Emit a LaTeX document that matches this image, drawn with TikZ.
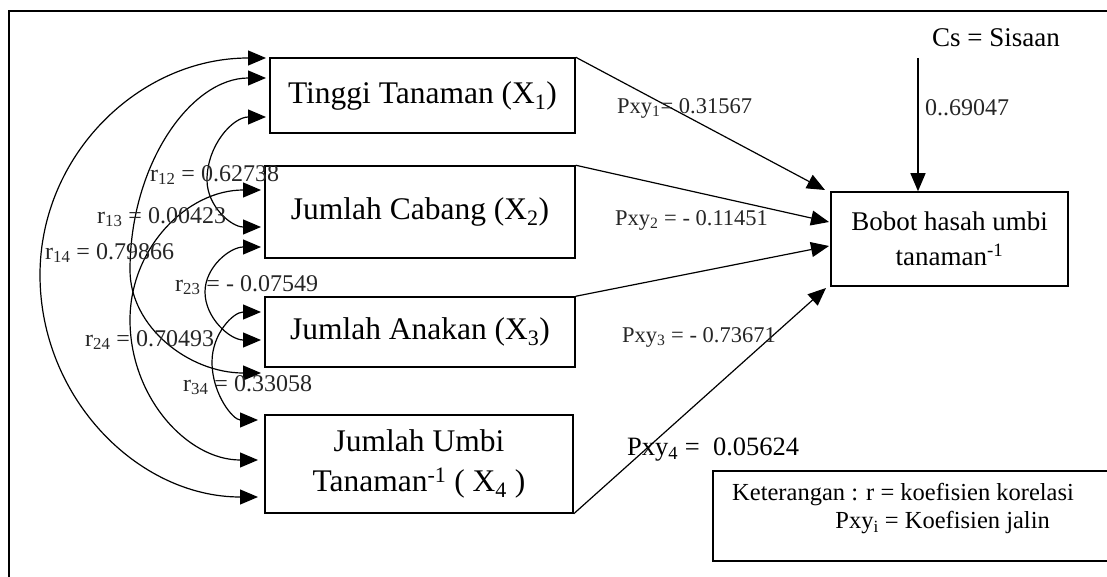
\documentclass[tikz,border=0pt]{standalone}
\usepackage{fontspec}
\setmainfont{Liberation Serif}
\usetikzlibrary{arrows.meta}
\tikzset{
  box/.style={draw, line width=1.5pt, inner sep=0pt, align=center},
  tipline/.style={-{Triangle[length=18pt,width=15pt]}, line width=1.2pt},
  dtipline/.style={{Triangle[length=18pt,width=15pt]}-{Triangle[length=18pt,width=15pt]}, line width=1.2pt},
  lbl/.style={inner sep=0pt, anchor=west},
  bigf/.style={font=\fontsize{31.5}{40}\selectfont},
  midf/.style={font=\fontsize{27}{35}\selectfont},
  smallf/.style={font=\fontsize{22.5}{25}\selectfont, text=black!85},
  rf/.style={font=\fontsize{24}{27}\selectfont, text=black!85},
  legf/.style={font=\fontsize{24.5}{28}\selectfont},
}
\begin{document}
\begin{tikzpicture}[x=1pt,y=-1pt]
\useasboundingbox (0,0) rectangle (1107,577);
% outer frame (continues past the picture edges)
\coordinate (fa) at (9,577);
\coordinate (fb) at (9,11);
\coordinate (fc) at (1107,11);
\draw[line width=1.8pt] (fa) -- (fb) -- (fc);

% boxes
\node[box, bigf, minimum width=305pt, minimum height=75pt] (x1) at (422.5,95.5) {Tinggi Tanaman (X\textsubscript{1})};
\node[box, bigf, minimum width=310pt, minimum height=92pt] (x2) at (420,212) {Jumlah Cabang (X\textsubscript{2})};
\node[box, bigf, minimum width=310pt, minimum height=70pt] (x3) at (420,332) {Jumlah Anakan (X\textsubscript{3})};
\node[box, bigf, minimum width=308pt, minimum height=98pt] (x4) at (419,464) {Jumlah Umbi\\Tanaman\textsuperscript{-1} ( X\textsubscript{4} )};
\node[box, midf, minimum width=237pt, minimum height=94pt] (y) at (949.5,239) {Bobot hasah umbi\\tanaman\textsuperscript{-1}};

% residual
\node[lbl, midf] (cs) at (932,38) {Cs = Sisaan};
\coordinate (csa) at (918,58);
\draw[tipline] (csa) -- (y.north -| csa);
\node[lbl, rf] (cv) at (925,108) {0..69047};

% path arrows
\coordinate (t1) at (825,190);
\coordinate (t2) at (829,222);
\coordinate (t3) at (829,246);
\coordinate (t4) at (826,288);
\draw[tipline] (x1.north east) -- (t1);
\draw[tipline] (x2.north east) -- (t2);
\draw[tipline] (x3.north east) -- (t3);
\draw[tipline] (x4.south east) -- (t4);

\node[lbl, smallf] (p1) at (617,108) {Pxy\textsubscript{1}= 0.31567};
\node[lbl, smallf] (p2) at (615,220) {Pxy\textsubscript{2} = - 0.11451};
\node[lbl, smallf] (p3) at (622,337) {Pxy\textsubscript{3} = - 0.73671};
\node[lbl, font=\fontsize{26.5}{30}\selectfont] (p4) at (627,450) {Pxy\textsubscript{4} =\ \ 0.05624};

% correlation curves
\coordinate (a1) at (266,58);
\coordinate (b1) at (266,78);
\coordinate (d1) at (266,117);
\coordinate (c2) at (261,190);
\coordinate (d2) at (261,227);
\coordinate (e2) at (261,247);
\coordinate (f3) at (261,312);
\coordinate (e3) at (261,340);
\coordinate (b3) at (261,373);
\coordinate (f4) at (258,420);
\coordinate (c4) at (258,460);
\coordinate (a4) at (258,497);

\draw[dtipline] (a1) .. controls (139,58) and (40,155) .. (40,275) .. controls (40,398) and (138,497) .. (a4);
\draw[dtipline] (b1) .. controls (191,78) and (130,164) .. (130,270) .. controls (130,327) and (189,373) .. (b3);
\draw[dtipline] (c2) .. controls (187,190) and (130,248) .. (130,320) .. controls (130,397) and (187,460) .. (c4);
\draw[dtipline] (d1) .. controls (233,117) and (207,145) .. (207,180) .. controls (207,206) and (231,227) .. (d2);
\draw[dtipline] (e2) .. controls (230,247) and (205,267) .. (205,292) .. controls (205,318) and (230,340) .. (e3);
\draw[dtipline] (f3) .. controls (233,312) and (212,334) .. (212,362) .. controls (212,394) and (233,420) .. (f4);

\node[lbl, rf] (r12) at (150,175) {r\textsubscript{12} = 0.62738};
\node[lbl, rf] (r13) at (97,217) {r\textsubscript{13} = 0.00423};
\node[lbl, rf] (r14) at (45,253) {r\textsubscript{14} = 0.79866};
\node[lbl, rf] (r23) at (175,285) {r\textsubscript{23} = - 0.07549};
\node[lbl, rf] (r24) at (85,340) {r\textsubscript{24} = 0.70493};
\node[lbl, rf] (r34) at (183,385) {r\textsubscript{34} = 0.33058};

% legend box (continues past the right edge)
\coordinate (la) at (1107,471);
\coordinate (lb) at (713,471);
\coordinate (lc) at (713,561);
\coordinate (ld) at (1107,561);
\draw[line width=1.5pt] (la) -- (lb) -- (lc) -- (ld);
\node[lbl, legf] (k1) at (732,495) {Keterangan : r = koefisien korelasi};
\node[inner sep=0pt, anchor=east, legf] (k2) at (1050,523) {Pxy\textsubscript{i} = Koefisien jalin};
\end{tikzpicture}
\end{document}
